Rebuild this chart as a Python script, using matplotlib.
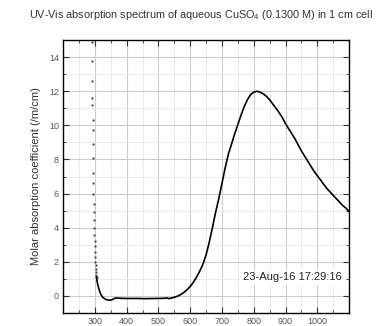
import matplotlib
matplotlib.use("Agg")
import matplotlib.pyplot as plt
from matplotlib.ticker import MultipleLocator

plt.rcParams['font.family'] = ['Liberation Sans', 'DejaVu Sans']
plt.rcParams['mathtext.fontset'] = 'custom'
plt.rcParams['mathtext.rm'] = 'Liberation Sans'
plt.rcParams['mathtext.it'] = 'Liberation Sans:italic'

# steep UV edge, sampled points (drawn as dots)
wl_dots = [291.0, 291.4, 291.8, 292.2, 292.5, 292.9, 293.2, 293.6, 294.0, 294.5,
           295.0, 295.5, 296.0, 296.6, 297.2, 297.8, 298.5, 299.2, 299.9, 300.6,
           301.3, 302.0, 302.7, 303.3, 304.0, 304.6, 305.2]
abs_dots = [14.9, 13.8, 12.6, 11.6, 11.2, 10.3, 9.7, 8.9, 8.1, 7.2,
            6.6, 6.0, 5.4, 4.9, 4.45, 4.0, 3.6, 3.2, 2.9, 2.6,
            2.3, 2.0, 1.8, 1.6, 1.4, 1.25, 1.1]

# rest of spectrum (continuous trace)
wl_line = [305, 308, 312, 316, 320, 325, 332, 340, 348, 355, 362, 370, 380,
           400, 430, 460, 490, 520, 528, 533, 540, 550, 560, 570, 580, 590,
           600, 610, 620, 630, 640, 650, 660, 670, 680, 690, 700, 710, 720,
           730, 740, 750, 760, 770, 780, 790, 800, 810, 820, 830, 840, 850,
           860, 870, 880, 890, 900, 910, 920, 930, 940, 950, 960, 970, 980,
           990, 1000, 1010, 1020, 1030, 1040, 1050, 1060, 1070, 1080, 1090, 1100]
abs_line = [1.1, 0.75, 0.45, 0.22, 0.05, -0.08, -0.18, -0.24, -0.25, -0.22, -0.14, -0.12, -0.14,
            -0.15, -0.15, -0.16, -0.15, -0.14, -0.12, -0.16, -0.13, -0.08, -0.02, 0.08, 0.2, 0.36,
            0.55, 0.8, 1.1, 1.45, 1.85, 2.4, 3.15, 4.0, 4.9, 5.7, 6.6, 7.5, 8.3,
            8.9, 9.5, 10.05, 10.6, 11.1, 11.5, 11.8, 11.95, 12.0, 11.95, 11.85, 11.7, 11.5,
            11.25, 11.0, 10.75, 10.45, 10.1, 9.8, 9.5, 9.2, 8.85, 8.5, 8.2, 7.9, 7.6,
            7.3, 7.05, 6.8, 6.55, 6.3, 6.1, 5.9, 5.7, 5.5, 5.3, 5.15, 4.95]

title = "UV-Vis absorption spectrum of aqueous CuSO$_4$ (0.1300 M) in 1 cm cell"
stamp = "23-Aug-16 17:29:16"

fig = plt.figure(figsize=(3.87, 3.26), dpi=100)
ax = fig.add_axes([0.163, 0.04, 0.739, 0.837])

ax.plot(wl_dots, abs_dots, linestyle='none', marker='.', markersize=1.2, color='#444444')
ax.plot(wl_line, abs_line, color='black', linewidth=1.2)

ax.set_xlim(200, 1100)
ax.set_ylim(-1, 15)
ax.xaxis.set_major_locator(MultipleLocator(100))
ax.xaxis.set_minor_locator(MultipleLocator(50))
ax.yaxis.set_major_locator(MultipleLocator(2))
ax.yaxis.set_minor_locator(MultipleLocator(1))
ax.set_xticks([300, 400, 500, 600, 700, 800, 900, 1000])
ax.set_yticks([0, 2, 4, 6, 8, 10, 12, 14])

ax.grid(which='major', color='#cccccc', linewidth=0.8)
ax.grid(which='minor', color='#e6e6e6', linewidth=0.6)
ax.set_axisbelow(True)

ax.tick_params(which='both', direction='in', top=True, right=True, labelsize=6.5,
               colors='#333333', labelcolor='#555555')
ax.tick_params(which='major', length=4, width=0.8, pad=3)
ax.tick_params(which='minor', length=2, width=0.6)
for s in ax.spines.values():
    s.set_linewidth(1.0)

ax.set_ylabel("Molar absorption coefficient (/m/cm)", fontsize=8, color='#333333', labelpad=6)
fig.text(0.52, 0.955, title, ha='center', va='center', fontsize=7.8, color='#333333')

ax.text(0.975, 0.13, stamp, transform=ax.transAxes, ha='right', va='center', fontsize=8,
        color='#222222', bbox=dict(facecolor='white', edgecolor='none', pad=2))

fig.savefig("out.png", dpi=100)
